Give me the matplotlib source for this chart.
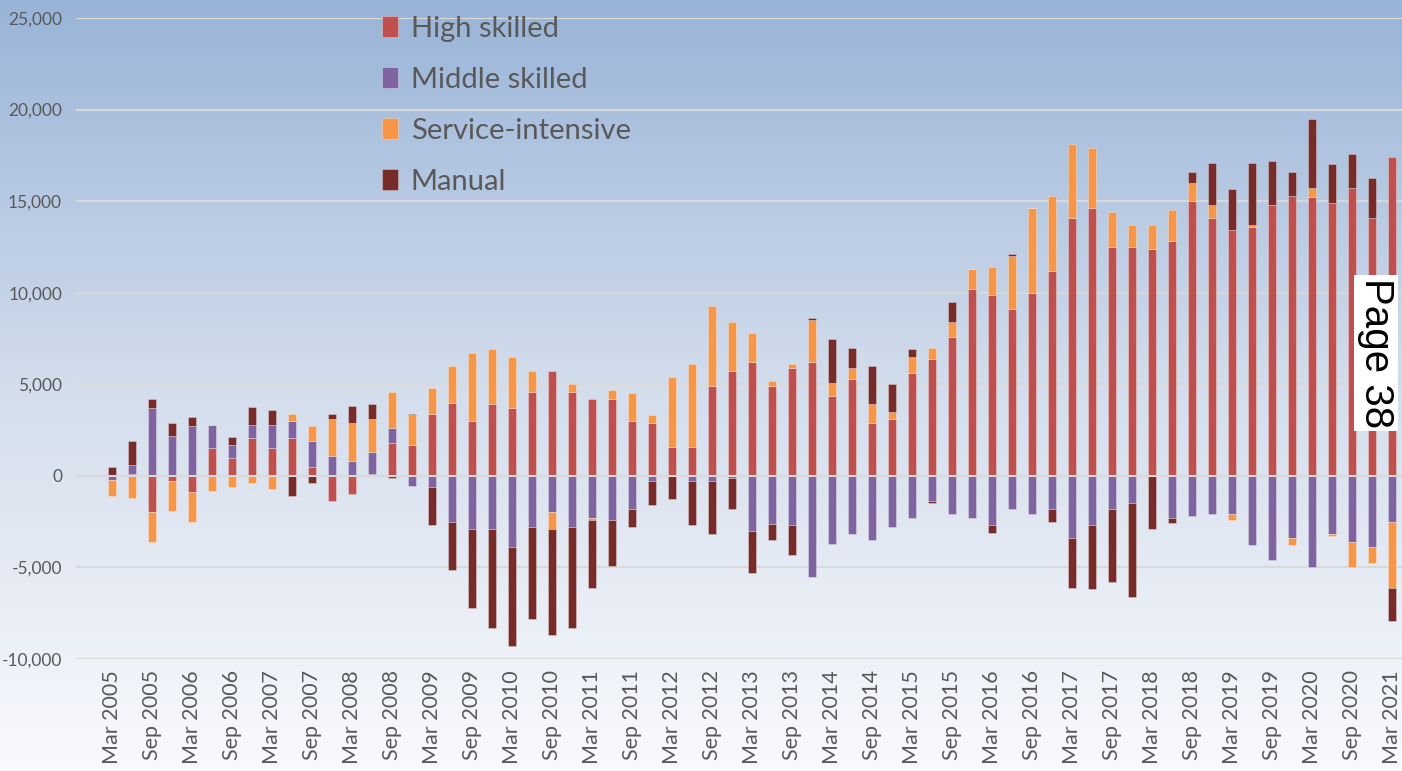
import numpy as np
import matplotlib
matplotlib.use("Agg")
import matplotlib.pyplot as plt
from matplotlib.colors import LinearSegmentedColormap

# quarterly series, Mar 2005 .. Mar 2021
months = ["Mar", "Jun", "Sep", "Dec"]
years = list(range(2005, 2022))
quarters = [f"{m} {y}" for y in years for m in months][:65]

high = [0, 100, -2000, -300, -900, 1500, 1000, 2070, 1500, 2070, 500, -1380, -1000, 100, 1800, 1700,
        3400, 4000, 3000, 3900, 3700, 4600, 5700, 4600, 4200, 4200, 3000, 2900, 1600, 1600, 4900, 5700,
        6200, 4900, 5900, 6200, 4350, 5300, 2900, 3100, 5600, 6400, 7600, 10200, 9900, 9100, 10000, 11200,
        14100, 14600, 12500, 12500, 12400, 12800, 15000, 14100, 13400, 13600, 14800, 15300, 15200, 14900,
        15700, 14100, 17400]
middle = [-200, 470, 3700, 2200, 2700, 1300, 700, 700, 1300, 900, 1400, 1100, 800, 1200, 800, -580,
          -600, -2500, -2900, -2900, -3900, -2800, -2000, -2800, -2300, -2400, -1800, -300, 0, -300, -300, -100,
          -3000, -2650, -2700, -5500, -3700, -3200, -3500, -2800, -2300, -1350, -2100, -2300, -2700, -1800, -2100,
          -1800, -3400, -2700, -1800, -1500, 0, -2300, -2200, -2100, -2100, -3800, -4600, -3400, -5000, -3200,
          -3600, -3900, -2500]
service = [-900, -1200, -1600, -1600, -1600, -800, -600, -400, -700, 400, 800, 2000, 2100, 1800, 2000, 1600,
           1400, 2000, 3700, 3000, 2800, 1100, -900, 400, -100, 500, 1500, 400, 3800, 4500, 4400, 2700,
           1600, 300, 200, 2300, 700, 600, 1000, 400, 900, 600, 800, 1100, 1500, 2900, 4600, 4100,
           4000, 3300, 1900, 1200, 1300, 1700, 1000, 700, -300, 100, 0, -400, 500, -100, -1400, -850, -3600]
manual = [500, 1330, 500, 700, 500, 0, 400, 1000, 800, -1100, -400, 300, 900, 800, -100, 100,
          -2100, -2650, -4300, -5400, -5400, -5000, -5800, -5500, -3700, -2500, -1000, -1270, -1270, -2400, -2900, -1700,
          -2300, -850, -1600, 100, 2400, 1100, 2100, 1500, 400, -150, 1100, 0, -400, 100, 0, -700,
          -2700, -3500, -4000, -5100, -2900, -300, 600, 2300, 2250, 3400, 2400, 1300, 3800, 2150, 1900, 2150, -1800]

series = [("High skilled", high, "#C0504D"),
          ("Middle skilled", middle, "#8064A2"),
          ("Service-intensive", service, "#F79646"),
          ("Manual", manual, "#772C2A")]

plt.rcParams['font.family'] = ['Lato', 'DejaVu Sans']

fig = plt.figure(figsize=(14.02, 7.71), dpi=100)

# gradient background over the whole picture
bg = fig.add_axes([0, 0, 1, 1], zorder=-10)
grad = LinearSegmentedColormap.from_list("bg", ["#99B4D8", "#D3DDEC", "#F9FAFD"])
bg.imshow(np.linspace(0, 1, 256).reshape(-1, 1), aspect="auto", cmap=grad, extent=[0, 1, 0, 1])
bg.set_axis_off()

ax = fig.add_axes([76 / 1402, 1 - 659 / 771, 1 - 76 / 1402, (659 - 18) / 771])
ax.set_facecolor("none")

x = np.arange(len(quarters))
pos_base = np.zeros(len(x))
neg_base = np.zeros(len(x))
for name, vals, col in series:
    v = np.array(vals, dtype=float)
    bottom = np.where(v >= 0, pos_base, neg_base)
    ax.bar(x, v, 0.42, bottom=bottom, color=col, label=name,
           edgecolor=(1, 1, 1, 0.35), linewidth=0.6, zorder=3)
    pos_base += np.clip(v, 0, None)
    neg_base += np.clip(v, None, 0)

ax.set_ylim(-10000, 25000)
ax.set_xlim(-1.8, 64.5)
ax.set_yticks(np.arange(-10000, 25001, 5000))
ax.yaxis.set_major_formatter(matplotlib.ticker.FuncFormatter(lambda v, p: f"{int(v):,}"))
ax.grid(axis="y", color="#D9D9D9", linewidth=1.5, zorder=1)
ax.axhline(0, color="#D9D9D9", linewidth=1.5, zorder=4)
ax.set_xticks(x[::2])
ax.set_xticklabels(quarters[::2], rotation=90, fontsize=15.5, color="#595959")
ax.tick_params(axis="y", length=0, pad=10, labelsize=12.5, labelcolor="#595959")
ax.tick_params(axis="x", length=0, pad=8)
for s in ax.spines.values():
    s.set_visible(False)

fig.legend(loc="upper left", bbox_to_anchor=(370 / 1402, 1 - 4 / 771), frameon=False,
           fontsize=21, labelcolor="#595959", handlelength=0.55, handleheight=0.75,
           handletextpad=0.45, labelspacing=0.86, borderaxespad=0.2, borderpad=0.2)

fig.text(1376 / 1402, 1 - 353 / 771, "Page 38", rotation=270, ha="center", va="center",
         fontsize=29, family="Liberation Sans", color="black",
         bbox=dict(boxstyle="square,pad=0.08", facecolor="white", edgecolor="none"))

fig.savefig("out.png", dpi=100)
